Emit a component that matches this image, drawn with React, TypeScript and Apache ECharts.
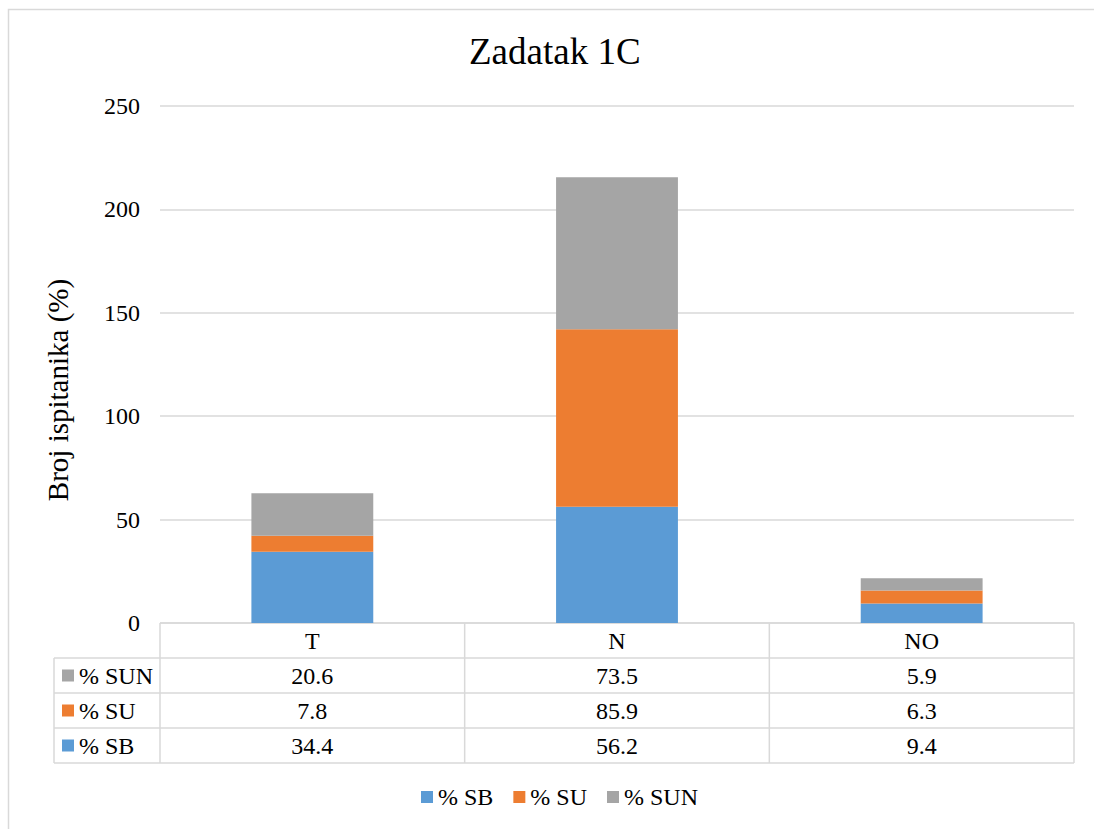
import React, { useEffect, useRef } from "react";
import * as echarts from "echarts";

const categories = ["T", "N", "NO"];
const seriesNames = ["% SB", "% SU", "% SUN"];
const sbValues = [34.4, 56.2, 9.4];
const suValues = [7.8, 85.9, 6.3];
const sunValues = [20.6, 73.5, 5.9];
const colors = ["#5B9BD5", "#ED7D31", "#A5A5A5"];
const yTicks = { min: 0, max: 250, interval: 50 };
const yTitle = "Broj ispitanika (%)";

const FONT = "Liberation Serif";
const W = 1094;
const H = 829;
const GL = 160;
const GR = 1074;
const GT = 106;
const GB = 623;
const ROW_H = 35;
const TABLE_LEFT = 54;
const LINE = "#D9D9D9";
const FS = 24;

export default function App() {
  const ref = useRef<HTMLDivElement>(null);
  useEffect(() => {
    if (!ref.current) return;
    const chart = echarts.init(ref.current, null, { renderer: "svg" });
    const values = [sbValues, suValues, sunValues];
    const rowOrder = [2, 1, 0];
    const colW = (GR - GL) / categories.length;
    const g: any[] = [];
    g.push({ type: "rect", shape: { x: 8.5, y: 9.5, width: 1200, height: 1000 }, style: { fill: "none", stroke: LINE, lineWidth: 1.5 }, silent: true });
    const lineStyle = { stroke: LINE, lineWidth: 1.5 };
    const bottomY = GB + ROW_H * (rowOrder.length + 1);
    g.push({ type: "line", shape: { x1: GL, y1: GB, x2: GR, y2: GB }, style: lineStyle });
    for (let i = 1; i <= rowOrder.length + 1; i++) {
      const y = GB + ROW_H * i;
      g.push({ type: "line", shape: { x1: TABLE_LEFT, y1: y, x2: GR, y2: y }, style: lineStyle });
    }
    for (let c = 0; c <= categories.length; c++) {
      const x = GL + colW * c;
      g.push({ type: "line", shape: { x1: x, y1: GB, x2: x, y2: bottomY }, style: lineStyle });
    }
    g.push({ type: "line", shape: { x1: TABLE_LEFT, y1: GB + ROW_H, x2: TABLE_LEFT, y2: bottomY }, style: lineStyle });
    rowOrder.forEach((si, r) => {
      const cy = GB + ROW_H * (r + 1) + ROW_H / 2;
      g.push({ type: "rect", shape: { x: 62, y: cy - 6, width: 12, height: 12 }, style: { fill: colors[si] } });
      g.push({ type: "text", x: 79, y: cy, style: { text: seriesNames[si], fontFamily: FONT, fontSize: FS, fill: "#000", verticalAlign: "middle", align: "left" } });
      values[si].forEach((v, c) => {
        g.push({ type: "text", x: GL + colW * (c + 0.5), y: cy, style: { text: v.toFixed(1), fontFamily: FONT, fontSize: FS, fill: "#000", verticalAlign: "middle", align: "center" } });
      });
    });
    g.push({ type: "text", x: 58, y: 390, rotation: Math.PI / 2, style: { text: yTitle, fontFamily: FONT, fontSize: 29, fill: "#000", verticalAlign: "middle", align: "center" } });

    chart.setOption({
      animation: false,
      backgroundColor: "#fff",
      textStyle: { fontFamily: FONT },
      title: {
        text: "Zadatak 1C",
        left: 464,
        top: 28,
        textStyle: { fontFamily: FONT, fontSize: 37, fontWeight: "normal", color: "#000" },
      },
      grid: { left: GL, right: W - GR, top: GT, bottom: H - GB },
      legend: {
        data: seriesNames,
        bottom: 15,
        left: 416,
        icon: "rect",
        itemWidth: 12,
        itemHeight: 12,
        itemGap: 20,
        itemStyle: { borderWidth: 0 },
        textStyle: { fontFamily: FONT, fontSize: FS, color: "#000" },
      },
      xAxis: {
        type: "category",
        data: categories,
        axisLine: { show: false },
        axisTick: { show: false },
        axisLabel: { fontFamily: FONT, fontSize: FS, color: "#000", margin: 6 },
      },
      yAxis: {
        type: "value",
        min: yTicks.min,
        max: yTicks.max,
        interval: yTicks.interval,
        axisLine: { show: false },
        axisTick: { show: false },
        axisLabel: { fontFamily: FONT, fontSize: FS, color: "#000", margin: 20 },
        splitLine: { lineStyle: { color: LINE, width: 1.5 } },
      },
      series: seriesNames.map((name, i) => ({
        name,
        type: "bar",
        stack: "total",
        barWidth: "40%",
        data: values[i],
        itemStyle: { color: colors[i] },
      })),
      graphic: g,
    });
    return () => chart.dispose();
  }, []);
  return <div ref={ref} style={{ position: "absolute", left: 0, top: 0, width: W, height: H }} />;
}
